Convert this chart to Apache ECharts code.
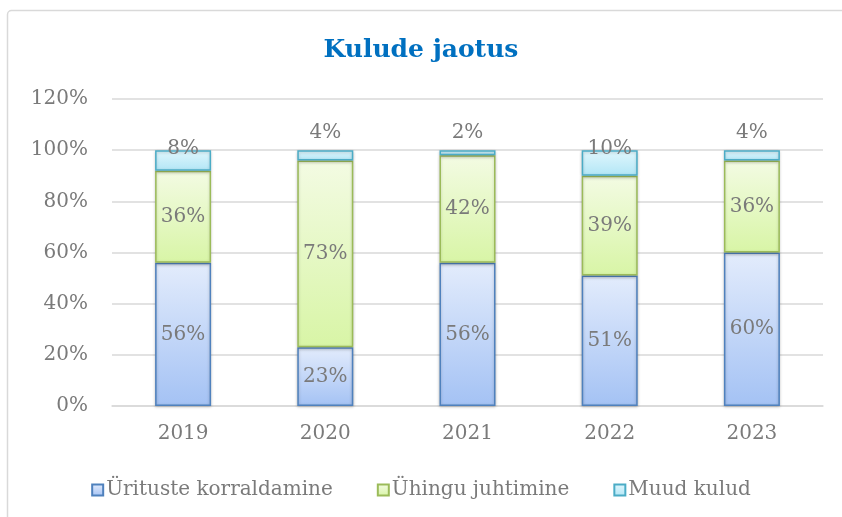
<!DOCTYPE html>
<html>
<head>
<meta charset="utf-8">
<script src="https://cdn.jsdelivr.net/npm/echarts@6/dist/echarts.min.js"></script>
<style>
  html, body { margin: 0; padding: 0; background: #fff; }
  #main { width: 842px; height: 517px; }
</style>
</head>
<body>
<div id="main"></div>
<script>
// andmed
const years = ["2019", "2020", "2021", "2022", "2023"];
const yritused = [56, 23, 56, 51, 60];
const juhtimine = [36, 73, 42, 39, 36];
const muud = [8, 4, 2, 10, 4];
const yTicks = [0, 20, 40, 60, 80, 100, 120];

const FONT = "DejaVu Serif";
const GREY = "#7a7a7a";

function grad(top, bottom) {
  return new echarts.graphic.LinearGradient(0, 0, 0, 1, [
    { offset: 0, color: top },
    { offset: 1, color: bottom }
  ]);
}

let myChart = echarts.init(document.getElementById("main"));

let option = {
  animation: false,
  backgroundColor: "#fff",
  title: {
    text: "Kulude jaotus",
    left: "center",
    top: 33,
    textStyle: { fontFamily: FONT, fontWeight: "bold", fontSize: 25, color: "#0070C0" }
  },
  graphic: [
    {
      type: "rect",
      shape: { x: 7.5, y: 10.5, width: 900, height: 600, r: 4 },
      style: { fill: "none", stroke: "#d9d9d9", lineWidth: 1.5 },
      silent: true
    }
  ],
  legend: {
    bottom: 12,
    left: "center",
    icon: "rect",
    itemWidth: 11,
    itemHeight: 11,
    itemGap: 44,
    textStyle: { fontFamily: FONT, fontSize: 20, color: GREY, padding: [0, 0, 0, -2] },
    data: ["Ürituste korraldamine", "Ühingu juhtimine", "Muud kulud"]
  },
  grid: { left: 112, right: 19, top: 99, bottom: 111 },
  xAxis: {
    type: "category",
    data: years,
    axisLine: { lineStyle: { color: "#d9d9d9", width: 1.5 } },
    axisTick: { show: false },
    axisLabel: { fontFamily: FONT, fontSize: 20, color: GREY, margin: 18 }
  },
  yAxis: {
    type: "value",
    min: yTicks[0],
    max: yTicks[yTicks.length - 1],
    interval: 20,
    axisLine: { show: false },
    axisTick: { show: false },
    splitLine: { lineStyle: { color: "#d9d9d9", width: 1.5 } },
    axisLabel: { fontFamily: FONT, fontSize: 20, color: GREY, margin: 24, formatter: "{value}%" }
  },
  series: [
    {
      name: "Ürituste korraldamine",
      type: "bar",
      stack: "kokku",
      barWidth: 56,
      data: yritused,
      itemStyle: {
        color: grad("#e3ecfc", "#a4c2f4"),
        borderColor: "#4f81bd",
        borderWidth: 1.5,
        shadowColor: "rgba(0,0,0,0.25)",
        shadowBlur: 3,
        shadowOffsetY: 1
      },
      label: { show: true, position: "inside", formatter: "{c}%", fontFamily: FONT, fontSize: 20, color: GREY }
    },
    {
      name: "Ühingu juhtimine",
      type: "bar",
      stack: "kokku",
      data: juhtimine,
      itemStyle: {
        color: grad("#f3fbe3", "#d8f5a6"),
        borderColor: "#9bbb59",
        borderWidth: 1.5,
        shadowColor: "rgba(0,0,0,0.2)",
        shadowBlur: 3,
        shadowOffsetY: 1
      },
      label: { show: true, position: "inside", formatter: "{c}%", fontFamily: FONT, fontSize: 20, color: GREY }
    },
    {
      name: "Muud kulud",
      type: "bar",
      stack: "kokku",
      data: muud.map(v => ({
        value: v,
        label: v >= 8 ? { position: "top", offset: [0, 14] } : { position: "top", distance: 7 }
      })),
      itemStyle: {
        color: grad("#e1f7fd", "#b2e6f6"),
        borderColor: "#4bacc6",
        borderWidth: 1.5,
        shadowColor: "rgba(0,0,0,0.2)",
        shadowBlur: 3,
        shadowOffsetY: 1
      },
      label: { show: true, formatter: "{c}%", fontFamily: FONT, fontSize: 20, color: GREY }
    }
  ]
};

myChart.setOption(option);
</script>
</body>
</html>
